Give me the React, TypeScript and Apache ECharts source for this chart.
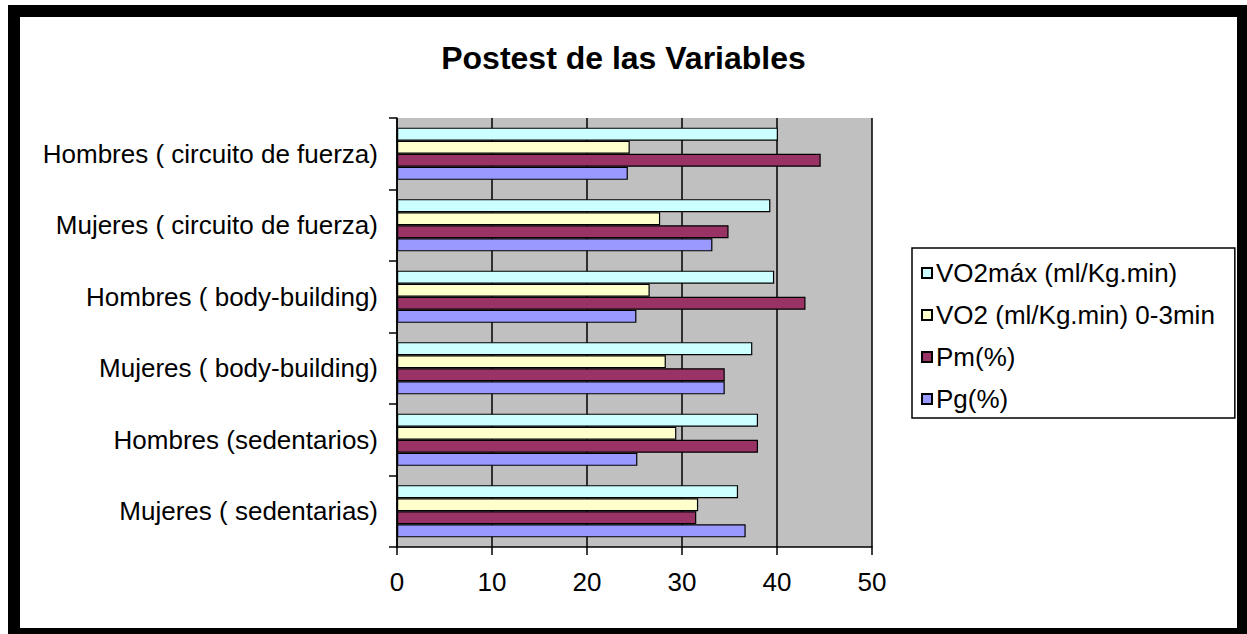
import React, { useEffect, useRef } from "react";
import * as echarts from "echarts";

const categories = [
  "Mujeres ( sedentarias)",
  "Hombres (sedentarios)",
  "Mujeres ( body-building)",
  "Hombres ( body-building)",
  "Mujeres ( circuito de fuerza)",
  "Hombres ( circuito de fuerza)",
];
const vo2max = [35.9, 38.0, 37.4, 39.7, 39.3, 40.1];
const vo2 = [31.7, 29.4, 28.3, 26.6, 27.7, 24.5];
const pm = [31.5, 38.0, 34.5, 43.0, 34.9, 44.6];
const pg = [36.7, 25.3, 34.5, 25.2, 33.2, 24.3];

const seriesNames = [
  "VO2máx (ml/Kg.min)",
  "VO2 (ml/Kg.min) 0-3min",
  "Pm(%)",
  "Pg(%)",
];

const FONT = "'Liberation Sans', Arial, sans-serif";

export default function App() {
  const ref = useRef<HTMLDivElement>(null);
  useEffect(() => {
    document.body.style.margin = "0";
    const chart = echarts.init(ref.current!, null, { renderer: "svg" });
    const bar = (name: string, data: number[], color: string) => ({
      name,
      type: "bar",
      data,
      barGap: "0%",
      barCategoryGap: "27%",
      itemStyle: { color, borderColor: "#000", borderWidth: 1.2 },
    });
    chart.setOption({
      animation: false,
      backgroundColor: "#fff",
      textStyle: { fontFamily: FONT },
      title: {
        text: "Postest de las Variables",
        left: "center",
        top: 37,
        textStyle: { fontSize: 32, fontWeight: "bold", color: "#000", fontFamily: FONT },
      },
      legend: {
        orient: "vertical",
        left: 912,
        top: 248,
        data: seriesNames,
        itemWidth: 10,
        itemHeight: 10,
        itemGap: 16,
        icon: "rect",
        padding: [12, 20, 6, 9],
        borderColor: "#000",
        borderWidth: 1.5,
        textStyle: { fontSize: 26, color: "#000", fontFamily: FONT, lineHeight: 26, padding: [0, 0, 0, -1] },
      },
      grid: { left: 397, right: 375, top: 118, bottom: 87, backgroundColor: "#C0C0C0", show: true, borderWidth: 0 },
      xAxis: {
        type: "value",
        min: 0,
        max: 50,
        interval: 10,
        axisLine: { show: true, lineStyle: { color: "#000", width: 1.5 } },
        axisTick: { show: true, length: 8, lineStyle: { color: "#000", width: 1.5 } },
        axisLabel: { fontSize: 26, color: "#000", margin: 22, fontFamily: FONT },
        splitLine: { show: true, lineStyle: { color: "#000", width: 1.5 } },
      },
      yAxis: {
        type: "category",
        data: categories,
        boundaryGap: true,
        axisLine: { show: true, lineStyle: { color: "#000", width: 1.5 } },
        axisTick: { show: true, length: 8, alignWithLabel: false, lineStyle: { color: "#000", width: 1.5 } },
        axisLabel: { fontSize: 26, color: "#000", margin: 19, fontFamily: FONT },
        splitLine: { show: false },
      },
      series: [
        bar(seriesNames[0], vo2max, "#CCFFFF"),
        bar(seriesNames[1], vo2, "#FFFFCC"),
        bar(seriesNames[2], pm, "#993366"),
        bar(seriesNames[3], pg, "#9999FF"),
      ],
      graphic: [
        {
          type: "rect",
          shape: { x: 14, y: 11, width: 1229, height: 623 },
          style: { fill: "none", stroke: "#000", lineWidth: 12 },
          silent: true,
          z: 100,
        },
      ],
    });
    return () => chart.dispose();
  }, []);
  return <div ref={ref} style={{ width: 1247, height: 634, background: "#fff" }} />;
}
